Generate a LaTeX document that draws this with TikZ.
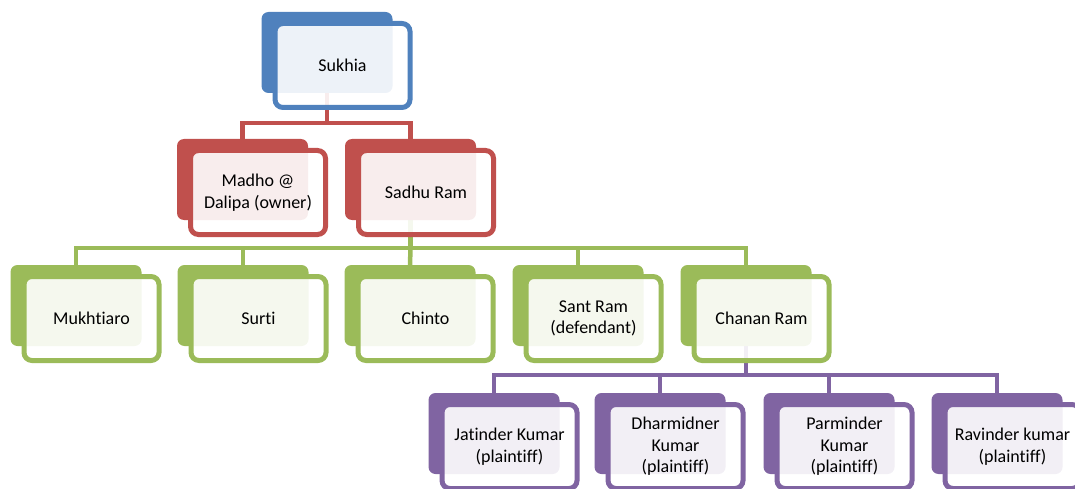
\documentclass[tikz,border=0pt]{standalone}
\usepackage{fontspec}
\setmainfont{Carlito}[Ligatures=NoCommon]
\usetikzlibrary{backgrounds}
\definecolor{cblue}{HTML}{4F81BD}
\definecolor{cred}{HTML}{C0504D}
\definecolor{cgreen}{HTML}{9BBB59}
\definecolor{cpurple}{HTML}{8064A2}
\tikzset{
  backbox/.style={fill=#1, rounded corners=7pt, minimum width=131pt, minimum height=81pt, anchor=north west, inner sep=0pt, outer sep=0pt},
  frontbox/.style={draw=#1, line width=5pt, fill=white, fill opacity=0.9, text opacity=1, draw opacity=1, rounded corners=8pt, minimum width=135pt, minimum height=84pt, anchor=center, align=center, inner sep=2pt, outer sep=0pt, font=\fontsize{18}{21.5}\selectfont},
  con/.style={draw=#1, line width=4.5pt},
}
\newcommand{\kinbox}[5]{%
  \node[backbox=#4] (#1b) at (#2,#3) {};
  \node[frontbox=#4] (#1) at ({#2+81},{#3+53.5}) {#5};
}
\begin{document}
\begin{tikzpicture}[x=1pt,y=-1pt]
\useasboundingbox (0,0) rectangle (1075,489);
% level 1
\kinbox{suk}{261.5}{12}{cblue}{Sukhia}
% level 2
\kinbox{mad}{177}{139}{cred}{Madho @\\Dalipa (owner)}
\kinbox{sad}{345}{139}{cred}{Sadhu Ram}
% level 3
\kinbox{muk}{10.5}{265}{cgreen}{Mukhtiaro}
\kinbox{sur}{177.5}{265}{cgreen}{Surti}
\kinbox{chi}{344.5}{265}{cgreen}{Chinto}
\kinbox{san}{512.5}{265}{cgreen}{Sant Ram\\(defendant)}
\kinbox{cha}{680.5}{265}{cgreen}{Chanan Ram}
% level 4
\kinbox{jat}{428.5}{393}{cpurple}{Jatinder Kumar\\(plaintiff)}
\kinbox{dha}{594.5}{393}{cpurple}{Dharmidner\\Kumar\\(plaintiff)}
\kinbox{par}{763.5}{393}{cpurple}{Parminder\\Kumar\\(plaintiff)}
\kinbox{rav}{931.5}{393}{cpurple}{Ravinder kumar\\(plaintiff)}
% connectors
\begin{scope}[on background layer]
  \draw[con=cred] (sukb.south) -- ++(0,30) coordinate (j1) -| (madb.north);
  \draw[con=cred] (j1) -| (sadb.north);
  \draw[con=cgreen] (sadb.south) -- ++(0,28) coordinate (j2) -| (mukb.north);
  \draw[con=cgreen] (j2) -| (surb.north);
  \draw[con=cgreen] (j2) -- (chib.north);
  \draw[con=cgreen] (j2) -| (sanb.north);
  \draw[con=cgreen] (j2) -| (chab.north);
  \draw[con=cpurple] (chab.south) -- ++(0,29) coordinate (j3) -| (jatb.north);
  \draw[con=cpurple] (j3) -| (dhab.north);
  \draw[con=cpurple] (j3) -| (parb.north);
  \draw[con=cpurple] (j3) -| (ravb.north);
\end{scope}
\end{tikzpicture}
\end{document}
